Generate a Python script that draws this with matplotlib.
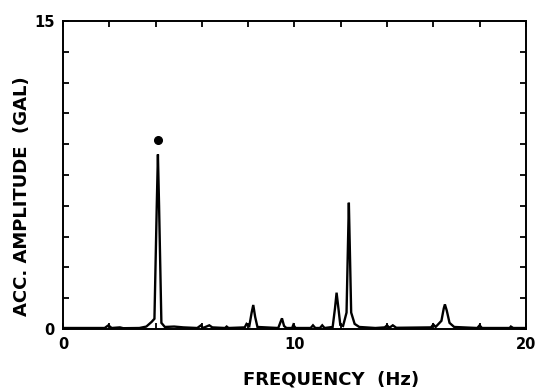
import matplotlib.pyplot as plt
import numpy as np

# spectrum (frequency in Hz, amplitude in gal)
freq = [0.0, 1.8, 1.96, 2.1, 2.46, 2.6, 3.3, 3.6, 3.83, 3.95, 4.05, 4.1, 4.15,
        4.25, 4.4, 4.8, 5.2, 5.8, 5.96, 6.05, 6.32, 6.45, 7.0, 7.07, 7.15, 7.85,
        7.93, 8.05, 8.15, 8.22, 8.3, 8.4, 9.3, 9.4, 9.46, 9.55, 9.65, 9.9, 9.95,
        10.05, 10.7, 10.8, 10.9, 11.1, 11.2, 11.3, 11.65, 11.75, 11.82, 11.9,
        11.98, 12.1, 12.25, 12.3, 12.35, 12.4, 12.45, 12.6, 12.8, 13.5, 13.9,
        14.0, 14.1, 14.25, 14.4, 15.9, 16.0, 16.1, 16.35, 16.45, 16.5, 16.58,
        16.7, 16.9, 17.9, 18.0, 18.1, 19.3, 19.35, 19.45, 20.0]
amp = [0.05, 0.05, 0.18, 0.05, 0.08, 0.04, 0.05, 0.12, 0.35, 0.5, 6.0, 8.5, 6.0,
       0.3, 0.1, 0.12, 0.08, 0.05, 0.18, 0.05, 0.18, 0.08, 0.05, 0.12, 0.05, 0.08,
       0.25, 0.15, 0.8, 1.17, 0.6, 0.1, 0.05, 0.35, 0.52, 0.15, 0.05, 0.05, 0.2,
       0.05, 0.05, 0.18, 0.05, 0.05, 0.18, 0.05, 0.1, 1.0, 1.77, 1.0,
       0.2, 0.15, 0.8, 3.5, 6.15, 3.5, 0.8, 0.25, 0.1, 0.05, 0.08,
       0.18, 0.06, 0.18, 0.06, 0.08, 0.22, 0.1, 0.4, 1.0, 1.2, 0.9,
       0.3, 0.1, 0.05, 0.18, 0.05, 0.05, 0.12, 0.05, 0.05]

# marked predominant peak
dot_freq = [4.1]
dot_amp = [9.2]

x_labels = {0: "0", 10: "10", 20: "20"}
y_labels = {0: "0", 15: "15"}

plt.rcParams['font.family'] = ['DejaVu Sans']
plt.rcParams['font.weight'] = 'bold'

fig = plt.figure(figsize=(5.35, 3.88), dpi=100)
ax = fig.add_axes([0.1178, 0.152, 0.8652, 0.794])

ax.plot(freq, amp, color='black', lw=1.7, solid_joinstyle='miter')
ax.plot(dot_freq, dot_amp, 'o', color='black', ms=5.5)

ax.set_xlim(0, 20)
ax.set_ylim(0, 15)

xt = np.arange(0, 20.1, 2)
yt = np.arange(0, 15.1, 1.5)
ax.set_xticks(xt)
ax.set_yticks(yt)
ax.set_xticklabels([x_labels.get(int(round(v)), "") if abs(v - round(v)) < 1e-6 else "" for v in xt])
ax.set_yticklabels([y_labels.get(int(round(v)), "") if abs(v - round(v)) < 1e-6 else "" for v in yt])
ax.tick_params(direction='in', length=4, width=1.3, top=True, right=True,
               labelsize=10.5, pad=6, colors='black')

for s in ax.spines.values():
    s.set_linewidth(1.4)

fig.text(0.619, 0.021, "FREQUENCY  (Hz)", ha='center', va='center',
         fontsize=13, fontweight='bold')
fig.text(0.041, 0.495, "ACC. AMPLITUDE  (GAL)", ha='center', va='center',
         rotation=90, fontsize=13, fontweight='bold')

fig.savefig("out.png", dpi=100)
